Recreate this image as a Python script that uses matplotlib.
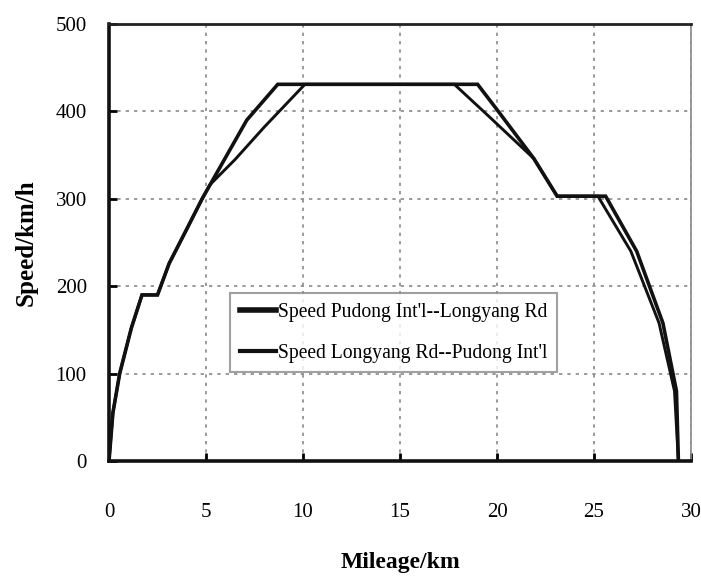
import matplotlib
matplotlib.use("Agg")
import matplotlib.pyplot as plt

# Data
mileage_pudong_longyang = [0, 0.2, 0.55, 1.15, 1.7, 2.5, 3.1, 4.0, 4.8, 7.1, 8.7,
                           19.0, 20.0, 21.9, 23.1, 25.6, 27.2, 28.55, 29.25, 29.35]
speed_pudong_longyang = [0, 55, 100, 152, 190, 190, 226, 265, 300, 390, 431,
                         431, 402, 346, 303, 303, 240, 158, 80, 0]

mileage_longyang_pudong = [0, 0.2, 0.55, 1.15, 1.7, 2.5, 3.1, 4.0, 4.8, 5.2, 6.5, 8.0, 10.1,
                           17.8, 19.5, 21.9, 23.1, 25.2, 26.9, 28.35, 29.15, 29.35]
speed_longyang_pudong = [0, 55, 100, 152, 190, 190, 226, 265, 300, 316, 345, 382, 431,
                         431, 396, 346, 303, 303, 240, 158, 80, 0]

labels = ["Speed Pudong Int'l--Longyang Rd", "Speed Longyang Rd--Pudong Int'l"]
x_ticks = [0, 5, 10, 15, 20, 25, 30]
y_ticks = [0, 100, 200, 300, 400, 500]

plt.rcParams['font.family'] = ['Liberation Serif', 'DejaVu Serif']

fig = plt.figure(figsize=(7.01, 5.79), dpi=100)
ax = fig.add_axes([109/701, 1-461/579, (691-109)/701, (461-24)/579])

ax.plot(mileage_pudong_longyang, speed_pudong_longyang, color='#111111', lw=2.6,
        label=labels[0], solid_joinstyle='miter')
ax.plot(mileage_longyang_pudong, speed_longyang_pudong, color='#111111', lw=2.1,
        label=labels[1], solid_joinstyle='miter')

ax.set_xlim(0, 30)
ax.set_ylim(0, 500)
ax.set_xticks(x_ticks)
ax.set_yticks(y_ticks)

ax.grid(True, color='#8a8a8a', linestyle=(0, (2, 3)), linewidth=1.2)
ax.set_axisbelow(True)

for side in ['left', 'bottom']:
    ax.spines[side].set_linewidth(2.6)
    ax.spines[side].set_color('#111111')
ax.spines['top'].set_linewidth(2.0)
ax.spines['top'].set_color('#222222')
ax.spines['right'].set_linewidth(1.2)
ax.spines['right'].set_color('#888888')

ax.tick_params(axis='x', direction='in', length=6, width=2, pad=30, labelsize=15)
ax.tick_params(axis='y', direction='in', length=6, width=2, pad=16, labelsize=15)

ax.set_xlabel('Mileage/km', fontsize=17, fontweight='bold', labelpad=22)
ax.set_ylabel('Speed/km/h', fontsize=18, fontweight='bold', labelpad=13)

leg = ax.legend(loc='upper left', bbox_to_anchor=(0.208, 0.384), borderaxespad=0,
                fontsize=14.1, frameon=True, fancybox=False, shadow=False,
                handlelength=1.85, handletextpad=0.1, labelspacing=1.1,
                borderpad=0.5)
leg.get_frame().set_edgecolor('#888888')
leg.get_frame().set_linewidth(1.5)
for h, w in zip(leg.get_lines(), [4.0, 3.0]):
    h.set_linewidth(w)

fig.savefig('out.png', dpi=100)
